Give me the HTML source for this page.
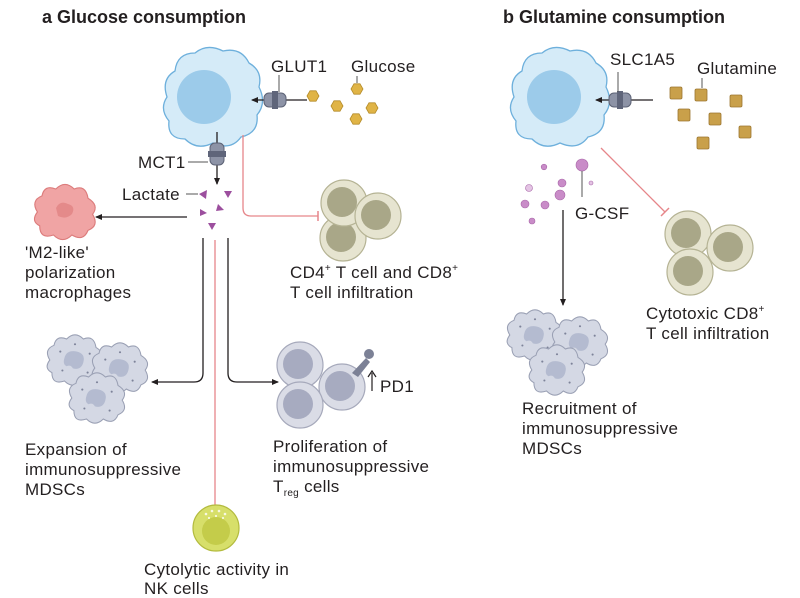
<!DOCTYPE html>
<html><head><meta charset="utf-8"><style>
html,body{margin:0;padding:0;background:#fff;}
svg{display:block;font-family:"Liberation Sans","DejaVu Sans",sans-serif;}
text{font-size:17px;fill:#231f20;letter-spacing:0.3px;}
.t{font-weight:bold;font-size:18px;letter-spacing:0;}
</style></head><body>
<svg width="800" height="598" viewBox="0 0 800 598" xmlns="http://www.w3.org/2000/svg">
<defs>
<path id="blob" d="M-46,0 Q-52,-18 -38,-26 Q-36,-44 -18,-44 Q-6,-54 10,-46 Q28,-50 36,-34 Q50,-26 46,-10 Q54,6 44,18 Q46,36 28,40 Q18,54 0,46 Q-16,54 -28,42 Q-46,42 -44,24 Q-54,12 -46,0Z"/>
<path id="mdsc" d="M-24,0 Q-30,-10 -20,-14 Q-18,-24 -8,-20 Q0,-28 8,-20 Q18,-24 20,-12 Q30,-6 24,2 Q30,12 20,16 Q16,26 6,20 Q-2,28 -10,20 Q-22,24 -22,12 Q-30,8 -24,0Z"/>
<g id="md"><use href="#mdsc" fill="#d4d8e4" stroke="#9aa0b4" stroke-width="1"/><path d="M-10,-2 Q-8,-10 2,-8 Q10,-6 8,2 Q6,10 -2,8 Q-4,4 -8,6 Q-12,4 -10,-2Z" fill="#b4bbd0"/>
<circle cx="-14" cy="-8" r="1" fill="#7d8399"/><circle cx="14" cy="-6" r="1" fill="#7d8399"/><circle cx="-12" cy="10" r="1" fill="#7d8399"/><circle cx="12" cy="12" r="1" fill="#7d8399"/><circle cx="0" cy="-15" r="1" fill="#7d8399"/></g>
<g id="tc"><circle r="23" fill="#e6e4d0" stroke="#b5b394" stroke-width="1.2"/><circle cx="-2" cy="-1" r="15" fill="#a9a788"/></g>
<g id="tr"><circle r="23" fill="#dadce6" stroke="#a6a9bb" stroke-width="1.2"/><circle cx="-2" cy="-1" r="15" fill="#a7abc0"/></g>
<g id="hex"><polygon points="-6,0 -3,-5.2 3,-5.2 6,0 3,5.2 -3,5.2" fill="#e0b446" stroke="#b58c2a" stroke-width="0.8"/></g>
<g id="sq"><rect x="-6" y="-6" width="12" height="12" rx="1.5" fill="#c9a04a" stroke="#9c7630" stroke-width="0.8"/></g>
<g id="trans"><rect x="-11" y="-7" width="22" height="14" rx="5" fill="#8d93a6" stroke="#5c6275" stroke-width="1"/><rect x="-3" y="-9" width="6" height="18" fill="#5f657a"/></g>
<marker id="ar" markerWidth="8" markerHeight="8" refX="6" refY="3" orient="auto" markerUnits="userSpaceOnUse"><path d="M0,0 L7,3 L0,6Z" fill="#231f20"/></marker>
</defs>

<text x="42" y="23" class="t">a  Glucose consumption</text>
<text x="503" y="23" class="t">b  Glutamine consumption</text>

<!-- panel a cell -->
<use href="#blob" transform="translate(213,97)" fill="#d5ebf8" stroke="#6eb0dc" stroke-width="1.3"/>
<circle cx="204" cy="97" r="27" fill="#9ccbea"/>
<line x1="307" y1="100" x2="252" y2="100" stroke="#231f20" stroke-width="1.3" marker-end="url(#ar)"/>
<use href="#trans" transform="translate(275,100)"/>
<line x1="279" y1="75" x2="279" y2="92" stroke="#555" stroke-width="1"/>
<text x="271" y="72">GLUT1</text>
<text x="351" y="72">Glucose</text>
<line x1="357" y1="76" x2="357" y2="83" stroke="#555" stroke-width="1"/>
<use href="#hex" x="313" y="96"/><use href="#hex" x="337" y="106"/><use href="#hex" x="357" y="89"/><use href="#hex" x="372" y="108"/><use href="#hex" x="356" y="119"/>

<line x1="217" y1="132" x2="217" y2="184" stroke="#231f20" stroke-width="1.3" marker-end="url(#ar)"/>
<use href="#trans" transform="translate(217,154) rotate(90)"/>
<line x1="188" y1="162" x2="208" y2="162" stroke="#555" stroke-width="1"/>
<text x="138" y="168">MCT1</text>
<text x="122" y="200">Lactate</text>
<line x1="186" y1="194" x2="198" y2="194" stroke="#555" stroke-width="1"/>
<g fill="#9c4f9e"><polygon points="199,194 207,190 206,199"/><polygon points="224,191 232,191 228,198"/><polygon points="218,204 224,210 216,211"/><polygon points="200,209 207,213 200,216"/><polygon points="208,223 216,223 212,230"/></g>

<!-- macrophage -->
<line x1="187" y1="217" x2="96" y2="217" stroke="#231f20" stroke-width="1.3" marker-end="url(#ar)"/>
<use href="#mdsc" transform="translate(65,212) scale(1.15)" fill="#f0a4a4" stroke="#dc7c7c" stroke-width="1"/>
<path d="M56,208 Q60,200 68,204 Q76,206 72,214 Q66,220 58,216Z" fill="#e48a8a"/>
<text x="25" y="258">'M2-like'</text>
<text x="25" y="278">polarization</text>
<text x="25" y="298">macrophages</text>

<!-- pink inhibition to T cells -->
<path d="M243,135 V208 Q243,216 251,216 H318" fill="none" stroke="#e6868a" stroke-width="1.3"/>
<line x1="318" y1="211" x2="318" y2="221" stroke="#e6868a" stroke-width="1.5"/>
<use href="#tc" x="343" y="238"/>
<use href="#tc" x="344" y="203"/>
<use href="#tc" x="378" y="216"/>
<text x="290" y="278">CD4<tspan font-size="10" dy="-7">+</tspan><tspan dy="7"> T cell and CD8</tspan><tspan font-size="10" dy="-7">+</tspan></text>
<text x="290" y="298">T cell infiltration</text>

<!-- branches -->
<path d="M203,238 V373 Q203,382 194,382 H152" fill="none" stroke="#231f20" stroke-width="1.3" marker-end="url(#ar)"/>
<path d="M228,238 V373 Q228,382 237,382 H278" fill="none" stroke="#231f20" stroke-width="1.3" marker-end="url(#ar)"/>
<line x1="215" y1="240" x2="215" y2="506" stroke="#e6868a" stroke-width="1.3"/>
<line x1="210" y1="506" x2="220" y2="506" stroke="#e6868a" stroke-width="1.5"/>

<use href="#md" transform="translate(75,360) scale(1.05)"/>
<use href="#md" transform="translate(120,368) scale(1.05)"/>
<use href="#md" transform="translate(97,398) scale(1.05)"/>
<text x="25" y="455">Expansion of</text>
<text x="25" y="475">immunosuppressive</text>
<text x="25" y="495">MDSCs</text>

<use href="#tr" x="300" y="365"/>
<use href="#tr" x="342" y="387"/>
<use href="#tr" x="300" y="405"/>
<path d="M352,373 L366,358 L370,362 L358,377Z" fill="#7c8196"/><circle cx="369" cy="354" r="5" fill="#7c8196"/>
<line x1="372" y1="373" x2="372" y2="391" stroke="#231f20" stroke-width="1.2"/><path d="M368,377 L372,371 L376,377" fill="none" stroke="#231f20" stroke-width="1.2"/>
<text x="380" y="392">PD1</text>
<text x="273" y="452">Proliferation of</text>
<text x="273" y="472">immunosuppressive</text>
<text x="273" y="492">T<tspan font-size="10" dy="4">reg</tspan><tspan dy="-4"> cells</tspan></text>

<circle cx="216" cy="528" r="23" fill="#d7df6a" stroke="#b3bb3e" stroke-width="1.2"/>
<circle cx="216" cy="531" r="14" fill="#c4cc4a"/>
<g fill="#fff" opacity="0.8"><circle cx="206" cy="514" r="1.3"/><circle cx="212" cy="511" r="1.3"/><circle cx="219" cy="511" r="1.3"/><circle cx="225" cy="514" r="1.3"/><circle cx="209" cy="518" r="1.1"/><circle cx="216" cy="516" r="1.1"/><circle cx="223" cy="518" r="1.1"/></g>
<text x="144" y="575">Cytolytic activity in</text>
<text x="144" y="594">NK cells</text>

<!-- panel b -->
<use href="#blob" transform="translate(560,97)" fill="#d5ebf8" stroke="#6eb0dc" stroke-width="1.3"/>
<circle cx="554" cy="97" r="27" fill="#9ccbea"/>
<line x1="653" y1="100" x2="596" y2="100" stroke="#231f20" stroke-width="1.3" marker-end="url(#ar)"/>
<use href="#trans" transform="translate(620,100)"/>
<line x1="618" y1="72" x2="618" y2="92" stroke="#555" stroke-width="1"/>
<text x="610" y="65">SLC1A5</text>
<text x="697" y="74">Glutamine</text>
<line x1="702" y1="78" x2="702" y2="88" stroke="#555" stroke-width="1"/>
<use href="#sq" x="676" y="93"/><use href="#sq" x="701" y="95"/><use href="#sq" x="736" y="101"/><use href="#sq" x="684" y="115"/><use href="#sq" x="715" y="119"/><use href="#sq" x="745" y="132"/><use href="#sq" x="703" y="143"/>

<g fill="#c98cc8" stroke="#a866a8" stroke-width="0.6">
<circle cx="582" cy="165" r="6"/><circle cx="544" cy="167" r="2.8"/><circle cx="562" cy="183" r="4"/><circle cx="560" cy="195" r="5"/><circle cx="529" cy="188" r="3.5" fill="#e4c4e4"/><circle cx="525" cy="204" r="4"/><circle cx="545" cy="205" r="4"/><circle cx="532" cy="221" r="3"/><circle cx="591" cy="183" r="2" fill="#e4c4e4"/></g>
<line x1="582" y1="171" x2="582" y2="197" stroke="#555" stroke-width="1"/>
<text x="575" y="219">G-CSF</text>
<line x1="563" y1="210" x2="563" y2="305" stroke="#231f20" stroke-width="1.3" marker-end="url(#ar)"/>
<path d="M601,148 L665,212" stroke="#e6868a" stroke-width="1.3"/>
<line x1="661" y1="216" x2="669" y2="208" stroke="#e6868a" stroke-width="1.5"/>
<use href="#tc" x="688" y="234"/><use href="#tc" x="730" y="248"/><use href="#tc" x="690" y="272"/>
<text x="646" y="319">Cytotoxic CD8<tspan font-size="10" dy="-7">+</tspan></text>
<text x="646" y="339">T cell infiltration</text>

<use href="#md" transform="translate(535,335) scale(1.05)"/>
<use href="#md" transform="translate(580,342) scale(1.05)"/>
<use href="#md" transform="translate(557,370) scale(1.05)"/>
<text x="522" y="414">Recruitment of</text>
<text x="522" y="434">immunosuppressive</text>
<text x="522" y="454">MDSCs</text>
</svg>
</body></html>
